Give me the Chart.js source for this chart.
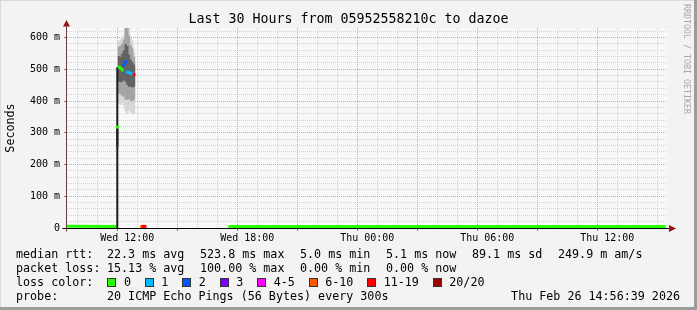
<!DOCTYPE html>
<html lang="en">
<head>
<meta charset="utf-8">
<title>Last 30 Hours from 05952558210c to dazoe</title>
<script src="https://cdn.jsdelivr.net/npm/chart.js@4.4.1/dist/chart.umd.min.js"></script>
<style>
  html, body { margin: 0; padding: 0; }
  body {
    position: relative;
    width: 697px;
    height: 310px;
    overflow: hidden;
    background: #f3f3f3;
    font-family: "DejaVu Sans Mono", monospace;
    color: #000;
  }
  #graph { position: absolute; left: 0; top: 0; }
  .title {
    position: absolute; left: 0; top: 11px; width: 697px;
    text-align: center; font-size: 13.3px; line-height: 16px; white-space: pre;
  }
  .legend {
    position: absolute; left: 16px; top: 247px; width: 664px;
    font-size: 11.7px; line-height: 14px; white-space: pre;
  }
  .legend .row { position: relative; height: 14px; }
  .legend .cell { position: absolute; top: 0; }
  .legend .stamp { position: absolute; right: 0; top: 0; }
  .box {
    display: inline-block; width: 7px; height: 7px; border: 1px solid #333;
    margin-right: 7.4px; vertical-align: -1px;
  }
  .lbl { margin-right: 14px; }
  .watermark {
    position: absolute; left: 682px; top: 4px; writing-mode: vertical-rl;
    font-size: 8.3px; line-height: 10px; color: #a8a8a8; white-space: pre;
  }
  .edge { position: absolute; background: #9c9c9c; }
  .edge-top, .edge-left { position: absolute; background: #dadada; }
</style>
</head>
<body>
<canvas id="graph" width="697" height="310"></canvas>
<div class="title">Last 30 Hours from 05952558210c to dazoe</div>
<div class="watermark">RRDTOOL / TOBI OETIKER</div>
<div class="legend" id="legend"></div>
<div class="edge-top" style="left:0;top:0;width:697px;height:1px"></div>
<div class="edge-left" style="left:0;top:0;width:1px;height:310px"></div>
<div class="edge" style="right:0;top:0;width:3px;height:310px"></div>
<div class="edge" style="left:0;bottom:0;width:697px;height:3px"></div>

<script>
// samples every 300 s, times as "Day HH:MM", rtt in seconds
const smokeTimes = ['Wed 11:30', 'Wed 11:35', 'Wed 11:40', 'Wed 11:45', 'Wed 11:50', 'Wed 11:55',
                    'Wed 12:00', 'Wed 12:05', 'Wed 12:10', 'Wed 12:15', 'Wed 12:20'];
const medianRtt = [0.318, 0.507, 0.503, 0.498, 0.513, 0.523, 0.491, 0.490, 0.487, 0.485, 0.483];
const lossCount = [0, 0, 0, 0, 2, 2, 1, 1, 1, 1, 13];
const smokeMin  = [0.248, 0.392, 0.388, 0.395, 0.385, 0.368, 0.360, 0.372, 0.366, 0.362, 0.360];
const smokeMax  = [0.322, 0.588, 0.592, 0.597, 0.606, 0.680, 0.700, 0.650, 0.598, 0.590, 0.552];
const smokeLow  = [0.252, 0.425, 0.422, 0.418, 0.415, 0.405, 0.405, 0.408, 0.402, 0.400, 0.405];
const smokeHigh = [0.320, 0.570, 0.574, 0.580, 0.592, 0.635, 0.645, 0.605, 0.575, 0.565, 0.538];
const coreLow   = [0.262, 0.462, 0.460, 0.462, 0.468, 0.462, 0.452, 0.446, 0.446, 0.444, 0.446];
const coreHigh  = [0.318, 0.540, 0.538, 0.548, 0.558, 0.578, 0.572, 0.545, 0.530, 0.522, 0.514];

// flat median before and after the outage
const baseTimesA = ['Wed 08:59', 'Wed 11:28'];
const baseRttA   = [0.0052, 0.0050];
const baseTimesB = ['Wed 17:03', 'Thu 14:55'];
const baseRttB   = [0.0050, 0.0051];

// step up of the median line
const jumpTimes = ['Wed 11:30', 'Wed 11:30'];
const jumpRtt   = [0, 0.507];

// lossy samples near zero after the high rtt period
const lossTimes = ['Wed 12:43', 'Wed 12:48', 'Wed 12:53'];
const lossRtt   = [0.005, 0.005, 0.005];
const lossAt    = [8, 14, 12];

const lossLabels = ['0', '1', '2', '3', '4-5', '6-10', '11-19', '20/20'];
const lossColors = ['#26ff00', '#00b8ff', '#0059ff', '#7e00ff', '#ff00ff', '#ff5500', '#ff0000', '#a10000'];
const lossUpper  = [0, 1, 2, 3, 5, 10, 19, 20];

const xTickHours  = [12, 18, 24, 30, 36];
const xTickLabels = ['Wed 12:00', 'Wed 18:00', 'Thu 00:00', 'Thu 06:00', 'Thu 12:00'];
const yTickLabels = ['0', '100 m', '200 m', '300 m', '400 m', '500 m', '600 m'];

const statsRows = [
  ['median rtt:', ['22.3 ms avg', '523.8 ms max', '5.0 ms min', '5.1 ms now', '89.1 ms sd', '249.9 m am/s']],
  ['packet loss:', ['15.13 % avg', '100.00 % max', '0.00 % min', '0.00 % now']],
];
const statsCols = [91, 184, 284, 370, 456, 542]; // tab stops of the legend columns
const probeText = '20 ICMP Echo Pings (56 Bytes) every 300s';
const stampText = 'Thu Feb 26 14:56:39 2026';

const mono = '"DejaVu Sans Mono", monospace';

// hours counted from Wed 00:00
function toHours(s) {
  const [day, hm] = s.split(' ');
  const [h, m] = hm.split(':').map(Number);
  return (day === 'Thu' ? 24 : 0) + h + m / 60;
}
function lossColor(n) {
  return lossColors[lossUpper.findIndex(u => n <= u)];
}
function points(times, vals) {
  return times.map((t, i) => ({ x: toHours(t), y: vals[i] }));
}
function ranges(lo, hi) {
  return smokeTimes.map((t, i) => ({ x: toHours(t), y: [lo[i], hi[i]] }));
}

const isMajorY = c => !!c.tick && Math.round(c.tick.value * 100) % 10 === 0;
const isMajorX = c => !!c.tick && Math.round(c.tick.value) % 3 === 0;
const minorGrid = 'rgba(140,140,140,0.32)';
const majorGrid = 'rgba(210,70,70,0.5)';

const frame = {
  id: 'frame',
  beforeDraw(chart) {
    const { ctx, chartArea: a } = chart;
    ctx.save();
    ctx.fillStyle = '#f8f8f8';
    ctx.fillRect(a.left, a.top, a.right - a.left, a.bottom - a.top);
    ctx.restore();
  },
  afterDatasetsDraw(chart) {
    const { ctx, chartArea: a } = chart;
    const x0 = Math.round(a.left) - 0.5;
    const y0 = Math.round(a.bottom) + 0.5;
    ctx.save();
    ctx.lineWidth = 1;
    // y axis
    ctx.strokeStyle = '#6a4040';
    ctx.beginPath();
    ctx.moveTo(x0, y0 + 3);
    ctx.lineTo(x0, a.top - 3);
    ctx.stroke();
    // x axis
    ctx.strokeStyle = '#000';
    ctx.beginPath();
    ctx.moveTo(x0 - 4, y0);
    ctx.lineTo(a.right + 2, y0);
    ctx.stroke();
    // arrows
    ctx.fillStyle = '#991515';
    ctx.beginPath();
    ctx.moveTo(x0, a.top - 8);
    ctx.lineTo(x0 - 3.5, a.top - 1.5);
    ctx.lineTo(x0 + 3.5, a.top - 1.5);
    ctx.closePath();
    ctx.fill();
    ctx.beginPath();
    ctx.moveTo(a.right + 9, y0);
    ctx.lineTo(a.right + 2, y0 - 3.5);
    ctx.lineTo(a.right + 2, y0 + 3.5);
    ctx.closePath();
    ctx.fill();
    ctx.restore();
  }
};

const markStyle = {
  type: 'line',
  showLine: false,
  pointStyle: 'rect',
  pointRadius: 2.1,
  pointBorderWidth: 0,
  order: 0,
};
const smokeStyle = {
  type: 'bar', grouped: false, barPercentage: 1, categoryPercentage: 1, borderWidth: 0,
};

new Chart(document.getElementById('graph'), {
  type: 'scatter',
  data: {
    datasets: [
      {
        type: 'line', data: points(baseTimesA, baseRttA),
        borderColor: lossColors[0], borderWidth: 3, pointRadius: 0, order: 5,
      },
      {
        type: 'line', data: points(baseTimesB, baseRttB),
        borderColor: lossColors[0], borderWidth: 3, pointRadius: 0, order: 5,
      },
      { ...smokeStyle, data: ranges(smokeMin, smokeMax), backgroundColor: '#d6d6d6', order: 9 },
      { ...smokeStyle, data: ranges(smokeLow, smokeHigh), backgroundColor: '#a4a4a4', order: 8 },
      { ...smokeStyle, data: ranges(coreLow, coreHigh), backgroundColor: '#626262', order: 7 },
      {
        type: 'line', data: points(jumpTimes, jumpRtt),
        borderColor: '#1a1a1a', borderWidth: 2, pointRadius: 0, order: 3,
      },
      {
        ...markStyle, data: points(smokeTimes, medianRtt),
        pointBackgroundColor: lossCount.map(lossColor),
      },
      {
        ...markStyle, data: points(lossTimes, lossRtt),
        pointBackgroundColor: lossAt.map(lossColor),
      },
    ],
  },
  options: {
    responsive: false,
    animation: false,
    devicePixelRatio: 1,
    layout: { padding: { left: 0, top: 28, right: 30, bottom: 62 } },
    plugins: { legend: { display: false }, tooltip: { enabled: false } },
    scales: {
      x: {
        type: 'linear', min: 8.985, max: 38.985, offset: false,
        afterBuildTicks: s => {
          s.ticks = [];
          for (let h = 9; h <= 38; h++) s.ticks.push({ value: h });
        },
        afterFit: s => { s.height = 20; },
        ticks: {
          autoSkip: false, maxRotation: 0, padding: 1, color: '#000',
          font: { family: mono, size: 10 },
          callback: v => {
            const i = xTickHours.indexOf(Math.round(v));
            return i < 0 || Math.abs(v - Math.round(v)) > 1e-6 ? '' : xTickLabels[i];
          },
        },
        grid: {
          color: c => isMajorX(c) ? majorGrid : minorGrid,
          lineWidth: 1, drawTicks: true, tickLength: 3,
          tickColor: c => isMajorX(c) ? '#b06060' : 'rgba(0,0,0,0)',
        },
        border: { display: false, dash: [1, 1] },
      },
      y: {
        type: 'linear', min: 0, max: 0.63,
        afterBuildTicks: s => {
          s.ticks = [];
          for (let k = 0; k <= 31; k++) s.ticks.push({ value: k / 50 });
        },
        afterFit: s => { s.width = 67; },
        ticks: {
          autoSkip: false, padding: 4, color: '#000',
          font: { family: mono, size: 10 },
          callback: v => Math.round(v * 100) % 10 === 0 ? yTickLabels[Math.round(v * 10)] : '',
        },
        grid: {
          color: c => isMajorY(c) ? majorGrid : minorGrid,
          lineWidth: 1, drawTicks: true, tickLength: 3,
          tickColor: c => isMajorY(c) ? '#b06060' : 'rgba(0,0,0,0)',
        },
        border: { display: false, dash: [1, 1] },
        title: {
          display: true, text: 'Seconds', color: '#000',
          font: { family: mono, size: 11.7 }, padding: { top: 4, bottom: 0 },
        },
      },
    },
  },
  plugins: [frame],
});

// text legend under the graph
const legend = document.getElementById('legend');
statsRows.forEach(([label, vals]) => {
  const row = document.createElement('div');
  row.className = 'row';
  row.textContent = label;
  vals.forEach((v, i) => {
    const cell = document.createElement('span');
    cell.className = 'cell';
    cell.style.left = statsCols[i] + 'px';
    cell.textContent = v;
    row.appendChild(cell);
  });
  legend.appendChild(row);
});

const lossRow = document.createElement('div');
lossRow.className = 'row';
lossRow.appendChild(document.createTextNode('loss color:'.padEnd(13)));
lossLabels.forEach((lab, i) => {
  const box = document.createElement('span');
  box.className = 'box';
  box.style.background = lossColors[i];
  const txt = document.createElement('span');
  txt.className = 'lbl';
  txt.textContent = lab;
  lossRow.appendChild(box);
  lossRow.appendChild(txt);
});
legend.appendChild(lossRow);

const probeRow = document.createElement('div');
probeRow.className = 'row';
probeRow.textContent = 'probe:';
const probe = document.createElement('span');
probe.className = 'cell';
probe.style.left = statsCols[0] + 'px';
probe.textContent = probeText;
probeRow.appendChild(probe);
const stamp = document.createElement('span');
stamp.className = 'stamp';
stamp.textContent = stampText;
probeRow.appendChild(stamp);
legend.appendChild(probeRow);
</script>
</body>
</html>
